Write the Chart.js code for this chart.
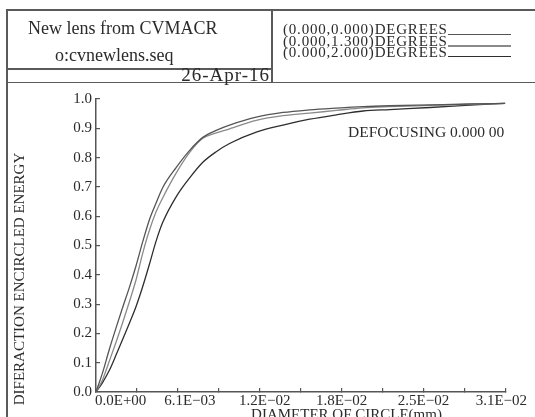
<!DOCTYPE html>
<html><head><meta charset="utf-8">
<script src="https://cdn.jsdelivr.net/npm/chart.js@4"></script>
<style>
html,body{margin:0;padding:0;background:#fff;}
#wrap{position:relative;width:535px;height:417px;overflow:hidden;background:#fff;font-family:'Liberation Serif','Times New Roman',serif;color:#2b2b2b;}
canvas{position:absolute;left:0;top:0;}
.ln{position:absolute;background:#5a5a5a;}
.t{position:absolute;white-space:nowrap;line-height:1;}
</style></head>
<body><div id="wrap">
<canvas id="c" width="535" height="417"></canvas>
<div class="ln" style="left:6px;top:9px;width:529px;height:1.5px"></div>
<div class="ln" style="left:6px;top:9px;width:1.5px;height:408px"></div>
<div class="ln" style="left:6px;top:81.5px;width:529px;height:1.5px"></div>
<div class="ln" style="left:271px;top:9px;width:1.5px;height:73px"></div>
<div class="ln" style="left:6px;top:68px;width:266px;height:1.5px"></div>
<div class="t" style="left:28px;top:19.2px;font-size:18px">New lens from CVMACR</div>
<div class="t" style="left:55px;top:45.9px;font-size:18px">o:cvnewlens.seq</div>
<div class="t" style="right:265px;top:65px;font-size:19px;letter-spacing:1px">26-Apr-16</div>
<div id="legend"></div>
<div class="t" style="left:348px;top:124px;font-size:15.5px">DEFOCUSING 0.000 00</div>
<div class="t" style="left:19px;top:278.5px;font-size:15px;transform:translate(-50%,-50%) rotate(-90deg)">DIFERACTION ENCIRCLED ENERGY</div>
<div class="t" style="left:346.5px;top:407.4px;font-size:15px;transform:translateX(-50%)">DIAMETER OF CIRCLE(mm)</div>
</div>
<script>
const xMax = 0.03065;
const diameters = [0, 0.0005, 0.001, 0.0015, 0.002, 0.0025, 0.003, 0.0035, 0.004, 0.0045, 0.005, 0.006, 0.007, 0.008, 0.009, 0.010, 0.012, 0.014, 0.016, 0.018, 0.020, 0.022, 0.025, 0.028, 0.03065];
const ee00 = [0, 0.067, 0.146, 0.219, 0.289, 0.357, 0.431, 0.513, 0.588, 0.645, 0.698, 0.766, 0.824, 0.869, 0.893, 0.911, 0.938, 0.954, 0.963, 0.969, 0.974, 0.977, 0.980, 0.983, 0.985];
const ee13 = [0, 0.043, 0.106, 0.170, 0.237, 0.308, 0.383, 0.474, 0.552, 0.615, 0.663, 0.747, 0.817, 0.866, 0.884, 0.898, 0.927, 0.943, 0.952, 0.961, 0.970, 0.974, 0.978, 0.982, 0.985];
const ee20 = [0, 0.033, 0.074, 0.126, 0.180, 0.235, 0.292, 0.360, 0.436, 0.515, 0.579, 0.666, 0.730, 0.784, 0.820, 0.848, 0.887, 0.911, 0.931, 0.946, 0.959, 0.964, 0.971, 0.979, 0.985];
const seriesNames = ['(0.000,0.000)DEGREES', '(0.000,1.300)DEGREES', '(0.000,2.000)DEGREES'];
const seriesColors = ['#555555', '#8a8a8a', '#2e2e2e'];
const xTickLabels = ['0.0E+00', '', '6.1E\u221203', '', '1.2E\u221202', '', '1.8E\u221202', '', '2.5E\u221202', '', '3.1E\u221202'];
const yTickLabels = ['0.0', '0.1', '0.2', '0.3', '0.4', '0.5', '0.6', '0.7', '0.8', '0.9', '1.0'];
const xLabelNudge = [0, 0, 12, 0, 5, 0, 0, 0, 0, 0, -4];

// HTML legend (text followed by line sample)
const legendTops = [22.4, 34.1, 44.7];
const lg = document.getElementById('legend');
seriesNames.forEach((n, i) => {
  const d = document.createElement('div');
  d.className = 't';
  d.style.cssText = `left:283px;top:${legendTops[i]}px;font-size:15px;letter-spacing:0.8px`;
  d.textContent = n;
  lg.appendChild(d);
  const l = document.createElement('div');
  l.className = 'ln';
  l.style.cssText = `left:448px;top:${legendTops[i] + 11.2}px;width:63px;height:1.3px;background:${seriesColors[i]}`;
  lg.appendChild(l);
});

Chart.defaults.font.family = "'Liberation Serif','Times New Roman',serif";
Chart.defaults.color = '#2b2b2b';

const labelPlacer = {
  id: 'labelPlacer',
  beforeDraw(chart) {
    try {
      const xs = chart.scales.x;
      const items = xs.getLabelItems(chart.chartArea);
      items.forEach((it, i) => {
        if (i === 0) {
          it.options.textAlign = 'left';
          it.options.translation[0] = xs.getPixelForValue(0) - 1;
        } else if (xLabelNudge[i]) {
          it.options.translation[0] += xLabelNudge[i];
        }
      });
    } catch (e) {}
  }
};

const datasets = [ee00, ee13, ee20].map((arr, k) => ({
  label: seriesNames[k],
  data: diameters.map((d, i) => ({x: d, y: arr[i]})),
  borderColor: seriesColors[k],
  borderWidth: 1.3,
  pointRadius: 0,
  fill: false,
  cubicInterpolationMode: 'monotone'
}));

new Chart(document.getElementById('c'), {
  type: 'line',
  data: {datasets},
  options: {
    responsive: false,
    animation: false,
    devicePixelRatio: 1,
    layout: {padding: {left: 0, right: 27, top: 99, bottom: 0}},
    plugins: {legend: {display: false}, tooltip: {enabled: false}},
    scales: {
      x: {
        type: 'linear', min: 0, max: xMax,
        afterBuildTicks: s => { s.ticks = xTickLabels.map((l, i) => ({value: i * xMax / (xTickLabels.length - 1)})); },
        afterFit: s => { s.height = 25; },
        ticks: {autoSkip: false, maxRotation: 0, minRotation: 0, padding: 4,
          font: {size: 15}, color: '#2b2b2b',
          callback: (v, i) => xTickLabels[i]},
        grid: {drawOnChartArea: false, drawTicks: true, tickLength: -4, color: '#555', lineWidth: 1.2},
        border: {display: true, color: '#555', width: 1.5}
      },
      y: {
        type: 'linear', min: 0, max: 1,
        afterBuildTicks: s => { s.ticks = yTickLabels.map(l => ({value: parseFloat(l)})); },
        afterFit: s => { s.width = 96; },
        ticks: {autoSkip: false, padding: 8, font: {size: 15}, color: '#2b2b2b',
          callback: (v, i) => yTickLabels[i]},
        grid: {drawOnChartArea: false, drawTicks: true, tickLength: -4, color: '#555', lineWidth: 1.2},
        border: {display: true, color: '#555', width: 1.5}
      }
    }
  },
  plugins: [labelPlacer]
});
</script>
</body></html>
